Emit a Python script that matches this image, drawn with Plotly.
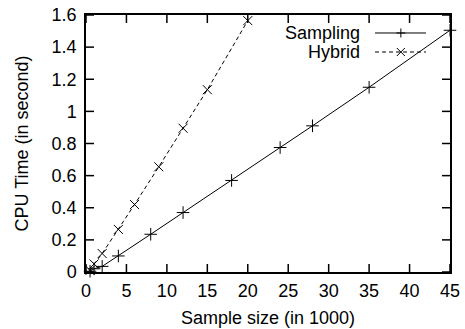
import plotly.graph_objects as go

# Data
sampling_x = [0.5, 1, 2, 4, 8, 12, 18, 24, 28, 35, 45]
sampling_y = [0.005, 0.02, 0.035, 0.10, 0.235, 0.37, 0.57, 0.775, 0.91, 1.15, 1.505]
hybrid_x = [0.5, 1, 2, 4, 6, 9, 12, 15, 20]
hybrid_y = [0.01, 0.05, 0.115, 0.265, 0.42, 0.655, 0.895, 1.135, 1.565]
x_ticks = [0, 5, 10, 15, 20, 25, 30, 35, 40, 45]
y_ticks = [0, 0.2, 0.4, 0.6, 0.8, 1.0, 1.2, 1.4, 1.6]
series_names = ["Sampling", "Hybrid"]
x_title = "Sample size (in 1000)"
y_title = "CPU Time (in second)"

FONT = "Liberation Sans, Arial, Helvetica, sans-serif"
FS = 18
X_RANGE = [0, 45]
Y_RANGE = [0, 1.6]
W, H = 465, 329
ML, MR, MT, MB = 86, 15, 15, 57
TICKLEN = 8  # px

plot_w = W - ML - MR
plot_h = H - MT - MB
dx = TICKLEN / plot_w * (X_RANGE[1] - X_RANGE[0])
dy = TICKLEN / plot_h * (Y_RANGE[1] - Y_RANGE[0])

fig = go.Figure()

# gnuplot-style inside ticks on all four sides, as a line trace
tx, ty = [], []
for tv in x_ticks:
    tx += [tv, tv, None, tv, tv, None]
    ty += [Y_RANGE[0], Y_RANGE[0] + dy, None, Y_RANGE[1], Y_RANGE[1] - dy, None]
for tv in y_ticks:
    tx += [X_RANGE[0], X_RANGE[0] + dx, None, X_RANGE[1], X_RANGE[1] - dx, None]
    ty += [tv, tv, None, tv, tv, None]
fig.add_trace(go.Scatter(x=tx, y=ty, mode="lines",
                         line=dict(color="black", width=1.5),
                         hoverinfo="skip", showlegend=False, cliponaxis=False))

fig.add_trace(go.Scatter(
    x=sampling_x, y=sampling_y, mode="lines+markers", name=series_names[0],
    line=dict(color="black", width=1),
    marker=dict(symbol="cross-thin-open", size=9, color="black",
                line=dict(color="black", width=1)),
    cliponaxis=False, showlegend=False))
fig.add_trace(go.Scatter(
    x=hybrid_x, y=hybrid_y, mode="lines+markers", name=series_names[1],
    line=dict(color="black", width=1, dash="4px,3px"),
    marker=dict(symbol="x-thin-open", size=9, color="black",
                line=dict(color="black", width=1)),
    cliponaxis=False, showlegend=False))

# gnuplot-style legend: text on the left, sample on the right
legend_rows = [(0.930, "solid", "+"), (0.856, "4px,3px", "x")]
for name, (yy, dash, sym) in zip(series_names, legend_rows):
    fig.add_annotation(x=0.757, y=yy, xref="paper", yref="paper", text=name,
                       showarrow=False, xanchor="right", yanchor="middle",
                       font=dict(family=FONT, size=FS, color="black"))
    fig.add_shape(type="line", xref="paper", yref="paper", x0=0.794, x1=0.934,
                  y0=yy, y1=yy, line=dict(color="black", width=1, dash=dash))
    if sym == "+":
        segs = [(-4.5, 0, 4.5, 0), (0, -4.5, 0, 4.5)]
    else:
        segs = [(-4, -4, 4, 4), (-4, 4, 4, -4)]
    for (ax0, ay0, ax1, ay1) in segs:
        fig.add_shape(type="line", xref="paper", yref="paper",
                      xsizemode="pixel", ysizemode="pixel",
                      xanchor=0.865, yanchor=yy,
                      x0=ax0, x1=ax1, y0=ay0, y1=ay1,
                      line=dict(color="black", width=1))

# axis titles
fig.add_annotation(x=0.5, y=-0.179, xref="paper", yref="paper", text=x_title,
                   showarrow=False, xanchor="center", yanchor="middle",
                   font=dict(family=FONT, size=FS, color="black"))
fig.add_annotation(x=-0.176, y=0.5, xref="paper", yref="paper", text=y_title,
                   showarrow=False, xanchor="center", yanchor="middle",
                   textangle=-90,
                   font=dict(family=FONT, size=FS, color="black"))

axis_common = dict(
    showgrid=False, zeroline=False, showline=True, linecolor="black",
    linewidth=1.5, mirror=True, ticks="", automargin=False,
    tickfont=dict(family=FONT, size=FS, color="black"),
)
fig.update_xaxes(range=X_RANGE, tickvals=x_ticks, ticklabelstandoff=2,
                 **axis_common)
fig.update_yaxes(range=Y_RANGE, tickvals=y_ticks, ticklabelstandoff=4,
                 **axis_common)

fig.update_layout(
    width=W, height=H,
    margin=dict(l=ML, r=MR, t=MT, b=MB, pad=0),
    paper_bgcolor="white", plot_bgcolor="white",
    font=dict(family=FONT, size=FS, color="black"),
)
fig.write_html("out.html",
               config={"displayModeBar": False},
               post_script="document.body.style.margin='0';"
                           "document.body.style.overflow='hidden';")
